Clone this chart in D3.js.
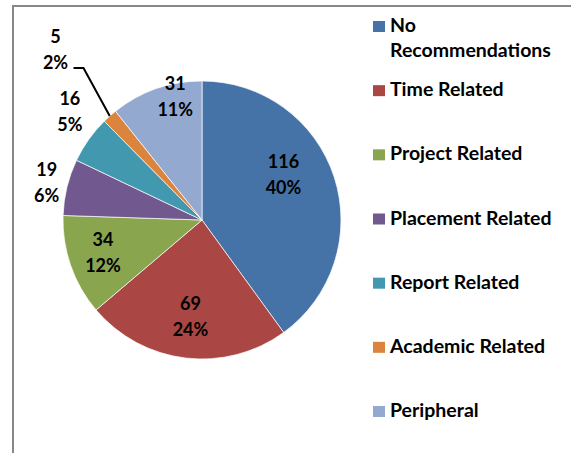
<!DOCTYPE html>
<html>
<head>
<meta charset="utf-8">
<script src="https://cdn.jsdelivr.net/npm/d3@7"></script>
<style>
  body { margin: 0; background: #fff; }
  svg { display: block; }
  text { font-family: Lato, "Liberation Sans", sans-serif; font-weight: bold; fill: #000; }
</style>
</head>
<body>
<svg id="chart" width="571" height="453"></svg>
<script>
// chart data
var categories = ["No Recommendations", "Time Related", "Project Related", "Placement Related",
                  "Report Related", "Academic Related", "Peripheral"];
var counts = [116, 69, 34, 19, 16, 5, 31];
var percents = [40, 24, 12, 6, 5, 2, 11];   // as printed on the chart
var colors = ["#4572A7", "#AA4643", "#89A54E", "#71588F", "#4198AF", "#DB843D", "#93A9CF"];

// label placement (fraction of radius, angle nudge in degrees) like excel's best fit
var labelRadius = [0.67, 0.70, 0.75, 1.15, 1.23, 1.62, 0.91];
var labelNudge = [-11, 0, 1, 0, 4, 1, 7];

var svg = d3.select("#chart");
var cx = 202, cy = 220, R = 139;

// frame
svg.append("path")
  .attr("d", "M13,453 L13,6 L571,6")
  .attr("fill", "none")
  .attr("stroke", "#888")
  .attr("stroke-width", 2);

var pie = d3.pie().sort(null).value(function(d) { return d; });
var arcs = pie(counts);
var arc = d3.arc().innerRadius(0).outerRadius(R);

var g = svg.append("g").attr("transform", "translate(" + cx + "," + cy + ")");

g.selectAll("path.slice")
  .data(arcs)
  .enter().append("path")
  .attr("class", "slice")
  .attr("d", arc)
  .attr("fill", function(d, i) { return colors[i]; })
  .attr("stroke", "#fff")
  .attr("stroke-width", 0.7);

function polar(a, r) {
  return [Math.sin(a) * r, -Math.cos(a) * r];
}

arcs.forEach(function(d, i) {
  var mid = (d.startAngle + d.endAngle) / 2;
  var a = mid + labelNudge[i] * Math.PI / 180;
  var p = polar(a, R * labelRadius[i]);
  var t = g.append("text").attr("text-anchor", "middle").style("font-size", "18px");
  t.append("tspan").attr("x", p[0]).attr("y", p[1] - 6.5).text(d.value);
  t.append("tspan").attr("x", p[0]).attr("y", p[1] + 19.5).text(percents[i] + "%");

  // leader line for labels well outside the pie
  if (labelRadius[i] > 1.4) {
    var end = polar(mid, R);
    var y0 = p[1] + 19;
    g.append("polyline")
      .attr("points", [[p[0] + 18, y0], [p[0] + 28, y0], end].map(function(q) { return q.join(","); }).join(" "))
      .attr("fill", "none")
      .attr("stroke", "#000")
      .attr("stroke-width", 2);
  }
});

// legend
var legendY = d3.scaleLinear().domain([0, categories.length - 1]).range([32, 417]);
var legend = svg.append("g");
categories.forEach(function(c, i) {
  var y = legendY(i);
  legend.append("rect")
    .attr("x", 373).attr("y", y - 11)
    .attr("width", 12).attr("height", 11)
    .attr("fill", colors[i]);
  var words = c === "No Recommendations" ? ["No", "Recommendations"] : [c];
  var t = legend.append("text").style("font-size", "19.5px");
  words.forEach(function(w, k) {
    t.append("tspan").attr("x", 390).attr("y", y + k * 25).text(w);
  });
});
</script>
</body>
</html>
